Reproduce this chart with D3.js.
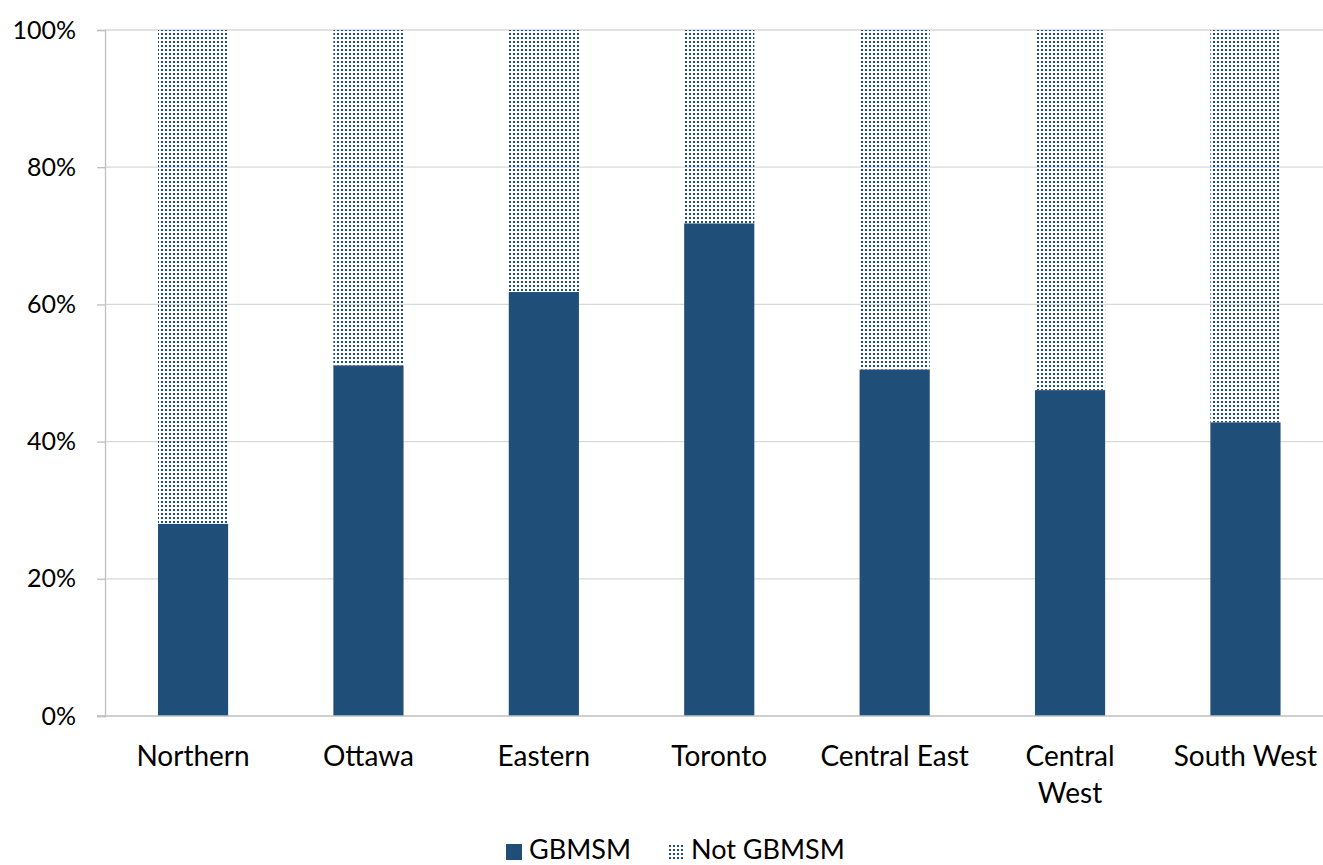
<!DOCTYPE html>
<html>
<head>
<meta charset="utf-8">
<script src="https://cdn.jsdelivr.net/npm/d3@7"></script>
<style>
  html, body { margin: 0; padding: 0; background: #fff; }
  svg { display: block; font-family: "Lato", "Open Sans", sans-serif; }
</style>
</head>
<body>
<svg id="chart" width="1323" height="865"></svg>
<script>
// Regions and share of cases by GBMSM status (percent)
const regions = ["Northern", "Ottawa", "Eastern", "Toronto", "Central East", "Central West", "South West"];
const gbmsm = [28.0, 51.1, 61.8, 71.8, 50.5, 47.5, 42.8];
const notGbmsm = gbmsm.map(v => 100 - v);
const seriesNames = ["GBMSM", "Not GBMSM"];
const yTicks = [0, 20, 40, 60, 80, 100];

const color = "#1f4e79";
const svg = d3.select("#chart");
const W = 1323, H = 865;
const margin = { left: 105, top: 30, bottom: 149 };
const plotRight = 1333.5;

// dotted fill for the upper segment
const defs = svg.append("defs");
const pat = defs.append("pattern")
  .attr("id", "dots")
  .attr("patternUnits", "userSpaceOnUse")
  .attr("width", 4).attr("height", 4);
pat.append("rect").attr("x", 1).attr("y", 1).attr("width", 2).attr("height", 2).attr("fill", color);

const x = d3.scaleBand().domain(regions).range([margin.left, plotRight]).paddingInner(0.6).paddingOuter(0.302);
const y = d3.scaleLinear().domain([0, 100]).range([H - margin.bottom, margin.top]);

// gridlines
svg.append("g").selectAll("line").data(yTicks.filter(t => t > 0)).join("line")
  .attr("x1", margin.left).attr("x2", W)
  .attr("y1", d => y(d)).attr("y2", d => y(d))
  .attr("stroke", "#d9d9d9").attr("stroke-width", 1.3);

// y axis
const yAxis = d3.axisLeft(y).tickValues(yTicks).tickFormat(d => d + "%").tickSize(8).tickPadding(21);
const gy = svg.append("g").attr("transform", `translate(${margin.left},0)`).call(yAxis);
gy.select(".domain").attr("stroke", "#bfbfbf").attr("stroke-width", 1.3);
gy.selectAll(".tick line").attr("stroke", "#bfbfbf").attr("stroke-width", 1.3);
gy.selectAll(".tick text").attr("font-size", 25).attr("fill", "#000").attr("font-family", "Lato, sans-serif");

// stacked bars
const stackData = regions.map((r, i) => ({ region: r, GBMSM: gbmsm[i], "Not GBMSM": notGbmsm[i] }));
const stacked = d3.stack().keys(seriesNames)(stackData);
const fills = { "GBMSM": color, "Not GBMSM": "url(#dots)" };
svg.append("g").selectAll("g").data(stacked).join("g")
  .attr("fill", d => fills[d.key])
  .selectAll("rect").data(d => d).join("rect")
  .attr("x", d => x(d.data.region))
  .attr("width", x.bandwidth())
  .attr("y", d => y(d[1]))
  .attr("height", d => y(d[0]) - y(d[1]));

// x axis baseline
svg.append("line")
  .attr("x1", margin.left - 8).attr("x2", W)
  .attr("y1", y(0)).attr("y2", y(0))
  .attr("stroke", "#bfbfbf").attr("stroke-width", 1.3);

// category labels (wrap where the label is split)
const labelLines = { "Central West": ["Central", "West"] };
const xl = svg.append("g").attr("font-size", 28).attr("fill", "#000").attr("text-anchor", "middle");
regions.forEach(r => {
  const cx = x(r) + x.bandwidth() / 2;
  const lines = labelLines[r] || [r];
  const t = xl.append("text").attr("x", cx).attr("y", y(0) + 50);
  lines.forEach((ln, i) => t.append("tspan").attr("x", cx).attr("dy", i ? 37 : 0).text(ln));
});

// legend
const legend = svg.append("g").attr("font-size", 27);
const items = [
  { name: seriesNames[0], fill: color, x: 506 },
  { name: seriesNames[1], fill: "url(#dots)", x: 668 }
];
items.forEach(it => {
  legend.append("rect").attr("x", it.x).attr("y", 844).attr("width", 16).attr("height", 16).attr("fill", it.fill);
  legend.append("text").attr("x", it.x + 23).attr("y", 859).text(it.name);
});
</script>
</body>
</html>
